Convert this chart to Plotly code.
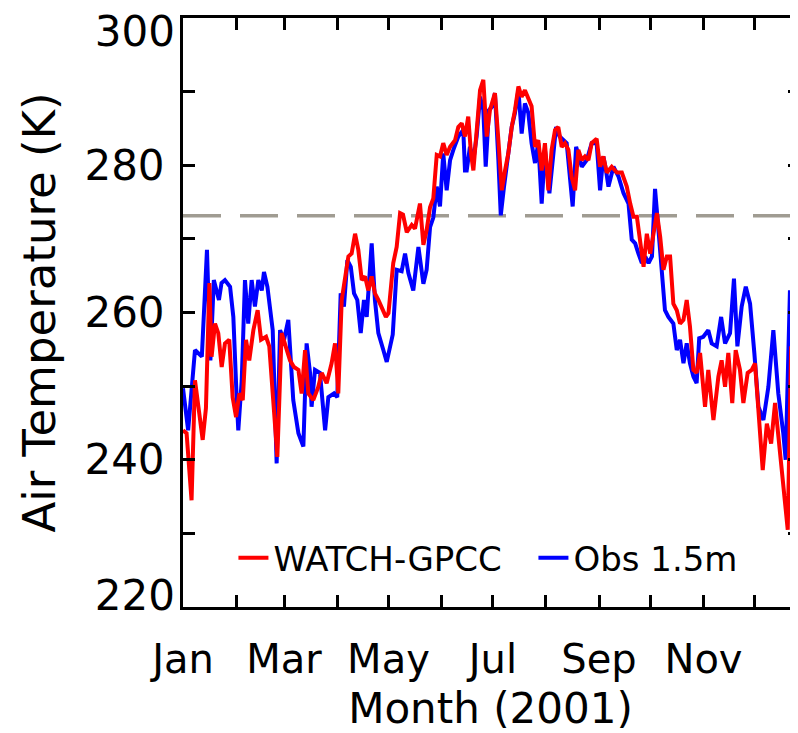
import pandas as pd
import plotly.graph_objects as go

# ---- data (day of year offset from 1 Jan 2001, temperature K) ----
obs_day = [0, 3, 7, 11, 14, 16, 18, 21, 22.5, 24.5, 27.5, 29.4, 31.4, 32.3, 34.3, 36.2, 38.1, 40.1, 42, 44,
           46, 47.3, 49.3, 50.4, 52.4, 54.7, 56.7, 59, 61.5, 64.4, 67.4, 70.3, 72.2, 74.2, 75.1, 77.1, 80, 83,
           84.9, 88.2, 90.1, 92.1, 94, 96, 98, 99.9, 101.8, 103.8, 105.7, 107.3, 110.2, 112.1, 114.1, 117,
           119, 122.5, 124.8, 127.7, 129.7, 131.6, 134.5, 137.5, 140.4, 142.3, 144.3, 146.2, 148.2, 150.1,
           152, 154, 156, 157.9, 160.8, 163.7, 164.7, 165.7, 167.6, 169.6, 171.5, 173.5, 175.4, 176.8, 178.7,
           180.7, 182.2, 184.2, 185.6, 187.5, 189.5, 192, 193.9, 195.9, 197.8, 199.7, 201.7, 203.6, 205.6,
           207.5, 209.5, 211.4, 214, 216, 217.9, 220, 224.1, 227.6, 229.6, 232.9, 235.8, 238.7, 241.6, 243.6,
           245.5, 247, 248.5, 251.4, 254.3, 257.3, 260.2, 262.1, 264.1, 266, 268, 270, 271.9, 273.9, 275.7,
           277.7, 279.6, 281.5, 283.5, 286.4, 288.4, 290.3, 292.3, 294.2, 296.1, 298.1, 300, 301.5, 303.9,
           306.8, 308.8, 311.7, 314.3, 316.6, 319.5, 321.8, 323.8, 326.3, 328.7, 331.2, 333.7, 336.1, 339,
           341.9, 344.8, 347.7, 350.6, 352, 354.5, 356.5, 358.4, 360]
obs_temp = [249.7, 244.0, 254.9, 254.0, 268.5, 253.5, 264.4, 261.7, 264.0, 264.4, 263.5, 259.4, 248.1, 244.0,
            250.8, 264.4, 258.5, 264.4, 260.8, 264.4, 263.0, 265.5, 263.5, 261.7, 257.6, 239.5, 257.6, 256.3,
            259.0, 248.1, 243.6, 241.8, 255.8, 251.8, 247.2, 252.2, 251.8, 244.0, 248.5, 249.0, 248.5, 262.6,
            260.8, 267.1, 266.2, 262.6, 261.7, 257.2, 261.7, 259.4, 269.4, 261.7, 257.2, 254.9, 253.3, 257.0,
            265.8, 265.6, 268.0, 265.4, 263.0, 268.9, 263.9, 265.8, 271.6, 272.9, 277.1, 274.4, 281.6, 276.6,
            280.7, 282.1, 283.9, 284.8, 279.3, 279.3, 282.5, 280.7, 283.9, 289.3, 287.5, 279.8, 287.5, 288.0,
            289.8, 280.7, 273.2, 277.1, 281.2, 285.2, 287.1, 290.2, 284.3, 288.4, 287.1, 283.0, 280.3, 283.0,
            274.8, 282.1, 276.2, 280.7, 285.2, 283.9, 283.0, 274.4, 282.5, 279.8, 280.7, 283.0, 283.0, 276.6,
            281.2, 279.4, 277.1, 279.8, 278.5, 276.2, 274.8, 269.9, 269.4, 268.0, 266.7, 267.6, 266.7, 267.6,
            276.8, 271.2, 264.9, 260.3, 259.4, 258.5, 254.9, 256.3, 253.1, 255.8, 253.1, 251.3, 250.4, 256.5,
            256.7, 257.6, 255.8, 255.4, 259.4, 255.8, 257.2, 264.6, 255.4, 260.8, 263.5, 261.2, 254.5, 247.2,
            245.4, 249.9, 257.6, 249.0, 243.6, 240.0, 263.0, 260.8, 269.9, 271.0]

watch_day = [0, 2.1, 5, 7, 9, 11.5, 13.4, 15.4, 16.7, 18.7, 20.6, 22.6, 24.5, 27, 29, 31, 32.9, 34.9, 36.8,
             38.7, 41.1, 43.6, 45.6, 48.5, 50.4, 52.4, 55.1, 57.6, 60.2, 62.5, 64.8, 67.4, 69.3, 71.3, 73.2,
             76.1, 79, 81, 83.9, 86.8, 88.8, 90.7, 92.7, 94.6, 96.6, 98.5, 100.5, 102.4, 104.4, 106.3, 108.2,
             110.2, 112.1, 114.1, 117, 118.5, 120, 122.8, 124.8, 126.8, 128.5, 130.7, 133.6, 135.5, 138.4,
             140.4, 142.3, 144.3, 146.2, 148.2, 150.1, 152, 154, 156, 158.9, 160.8, 162.8, 164.7, 166.6, 168.2,
             169.6, 171.5, 173.5, 175.4, 177.4, 179.3, 182.2, 184.2, 186.2, 188.1, 190, 192, 193.9, 195.9,
             197.8, 199.7, 201.7, 203.6, 205.6, 207.5, 209.5, 211.4, 213.4, 215.3, 217.3, 219.2, 221.2, 223.1,
             225.1, 227, 229, 230.9, 232.9, 234.8, 236.8, 238.7, 241.6, 243.6, 245.5, 247.5, 250.4, 253.4,
             256.3, 259.2, 261.2, 263.1, 265.1, 267, 269, 270.9, 272.9, 274.8, 276.8, 278.7, 280.6, 282.6,
             284.5, 286.4, 288.4, 290.3, 292.3, 294.2, 296.1, 298.1, 300, 302, 304.9, 306.8, 309.8, 312.7,
             314.6, 316.6, 318.5, 320.8, 322.8, 325.3, 327.3, 329.8, 332.2, 334.1, 336.1, 338.6, 341, 343.5,
             345.8, 348.7, 351.2, 353.2, 355.2, 357.1, 358.4, 360]
watch_temp = [244.0, 243.6, 234.5, 250.8, 247.2, 242.7, 247.0, 264.0, 254.0, 258.5, 257.2, 252.6, 255.8, 256.3,
              248.5, 245.8, 249.0, 248.1, 256.3, 253.5, 257.6, 260.3, 256.3, 256.7, 255.4, 248.5, 240.4, 257.2,
              255.4, 253.5, 252.6, 252.2, 249.0, 254.9, 249.0, 248.1, 249.9, 251.8, 250.4, 253.1, 255.8, 249.0,
              261.7, 264.9, 267.6, 268.0, 270.7, 268.5, 264.4, 264.9, 263.0, 264.9, 262.6, 261.7, 260.3, 259.4,
              259.9, 266.7, 268.9, 273.5, 273.3, 270.9, 271.9, 271.4, 274.8, 269.2, 271.2, 274.3, 275.5, 281.4,
              281.2, 283.0, 281.4, 282.5, 283.4, 285.2, 285.7, 283.9, 286.6, 281.6, 279.3, 285.2, 290.2, 291.6,
              283.9, 287.5, 289.8, 283.4, 276.6, 279.3, 281.6, 285.2, 287.5, 290.7, 289.3, 290.2, 288.9, 288.0,
              282.5, 283.4, 279.3, 283.0, 276.6, 282.1, 284.8, 285.2, 282.5, 283.0, 282.1, 278.4, 276.6, 282.1,
              280.7, 281.2, 280.7, 283.0, 283.6, 279.8, 281.2, 279.0, 279.8, 279.0, 279.0, 277.1, 274.8, 273.0,
              273.0, 269.9, 266.2, 270.7, 268.0, 270.7, 273.5, 270.3, 265.8, 267.6, 267.6, 261.2, 260.3, 258.5,
              259.0, 261.7, 258.1, 252.2, 251.8, 254.5, 247.2, 252.2, 245.4, 251.3, 253.5, 249.9, 254.5, 247.7,
              254.9, 252.2, 247.7, 251.8, 252.2, 253.1, 246.8, 238.6, 244.9, 242.2, 247.7, 240.9, 235.1, 230.5,
              255.4, 241.8, 259.0, 255.0]

freezing_k = 273.15
year_days = [0, 365]
month_ticks = ['2001-01-01', '2001-02-01', '2001-03-01', '2001-04-01', '2001-05-01', '2001-06-01',
               '2001-07-01', '2001-08-01', '2001-09-01', '2001-10-01', '2001-11-01', '2001-12-01']
month_labels = ['Jan', '', 'Mar', '', 'May', '', 'Jul', '', 'Sep', '', 'Nov', '']
y_ticks = [220, 230, 240, 250, 260, 270, 280, 290, 300]
y_mid_ticks = [240, 260, 280]
y_top_tick = [300]
y_bottom_tick = [220]

base = pd.Timestamp('2001-01-01')


def to_dates(days):
    return [base + pd.Timedelta(days=d) for d in days]


FONT = 'DejaVu Sans'
TICKFONT = dict(size=42, family=FONT, color='black')

fig = go.Figure()
fig.add_trace(go.Scatter(x=to_dates(year_days), y=[freezing_k, freezing_k], mode='lines',
                         line=dict(color='rgb(160,156,146)', width=3.5, dash='38px,19px'),
                         showlegend=False, hoverinfo='skip'))
fig.add_trace(go.Scatter(x=to_dates(obs_day), y=obs_temp, mode='lines', name='Obs 1.5m',
                         line=dict(color='#0000ff', width=4), legendrank=2))
fig.add_trace(go.Scatter(x=to_dates(watch_day), y=watch_temp, mode='lines', name='WATCH-GPCC',
                         line=dict(color='#ff0000', width=4), legendrank=1))
# helper traces binding the extra overlay axes (right-hand ticks, end labels)
for ax in ['y2', 'y3', 'y4']:
    fig.add_trace(go.Scatter(x=to_dates([0]), y=[None], yaxis=ax, showlegend=False, hoverinfo='skip'))

label_axis = dict(range=[220, 300], overlaying='y', side='left', tickmode='array',
                  ticks='', showline=False, showgrid=False, zeroline=False, automargin=False,
                  ticklabeloverflow='allow', tickfont=TICKFONT, ticklabelstandoff=7)

# the page body adds an 8px offset, so the figure is laid out 8px smaller on each side
fig.update_layout(
    width=790, height=725,
    margin=dict(l=175, r=0, t=10, b=126, autoexpand=False),
    paper_bgcolor='white', plot_bgcolor='white',
    font=dict(family=FONT, color='black'),
    showlegend=True,
    legend=dict(orientation='h', x=0.082, y=0.083, xanchor='left', yanchor='middle',
                font=dict(size=34, family=FONT, color='black'), bgcolor='rgba(0,0,0,0)',
                itemwidth=30, traceorder='normal', entrywidth=255, entrywidthmode='pixels'),
    xaxis=dict(type='date', range=[base, base + pd.Timedelta(days=359.2)],
               tickmode='array', tickvals=month_ticks, ticktext=month_labels,
               ticks='inside', ticklen=12, tickwidth=3, tickcolor='black',
               showline=True, linewidth=3, linecolor='black', mirror='ticks',
               showgrid=False, zeroline=False, automargin=False,
               tickfont=dict(size=40, family=FONT, color='black'), ticklabelstandoff=15,
               title=dict(text='Month (2001)', font=dict(size=42, family=FONT, color='black'),
                          standoff=17)),
    yaxis=dict(range=[220, 300], tickmode='array', tickvals=y_ticks,
               ticktext=[str(v) if v in y_mid_ticks else '' for v in y_ticks],
               ticks='inside', ticklen=12, tickwidth=3, tickcolor='black',
               showline=True, linewidth=3, linecolor='black', mirror=False,
               showgrid=False, zeroline=False, automargin=False, ticklabeloverflow='allow',
               tickfont=TICKFONT, ticklabelstandoff=7,
               title=dict(text='Air Temperature (K)', font=dict(size=45, family=FONT, color='black'),
                          standoff=15)),
    yaxis2=dict(range=[220, 300], overlaying='y', side='right', tickmode='array', tickvals=y_ticks,
                ticks='inside', ticklen=10, tickwidth=3, tickcolor='black', showticklabels=False,
                showline=False, showgrid=False, zeroline=False),
    yaxis3=dict(label_axis, tickvals=y_top_tick, ticktext=[str(v) for v in y_top_tick],
                ticklabelshift=13),
    yaxis4=dict(label_axis, tickvals=y_bottom_tick, ticktext=[str(v) for v in y_bottom_tick],
                ticklabelshift=-12),
)

fig.write_html('out.html')
